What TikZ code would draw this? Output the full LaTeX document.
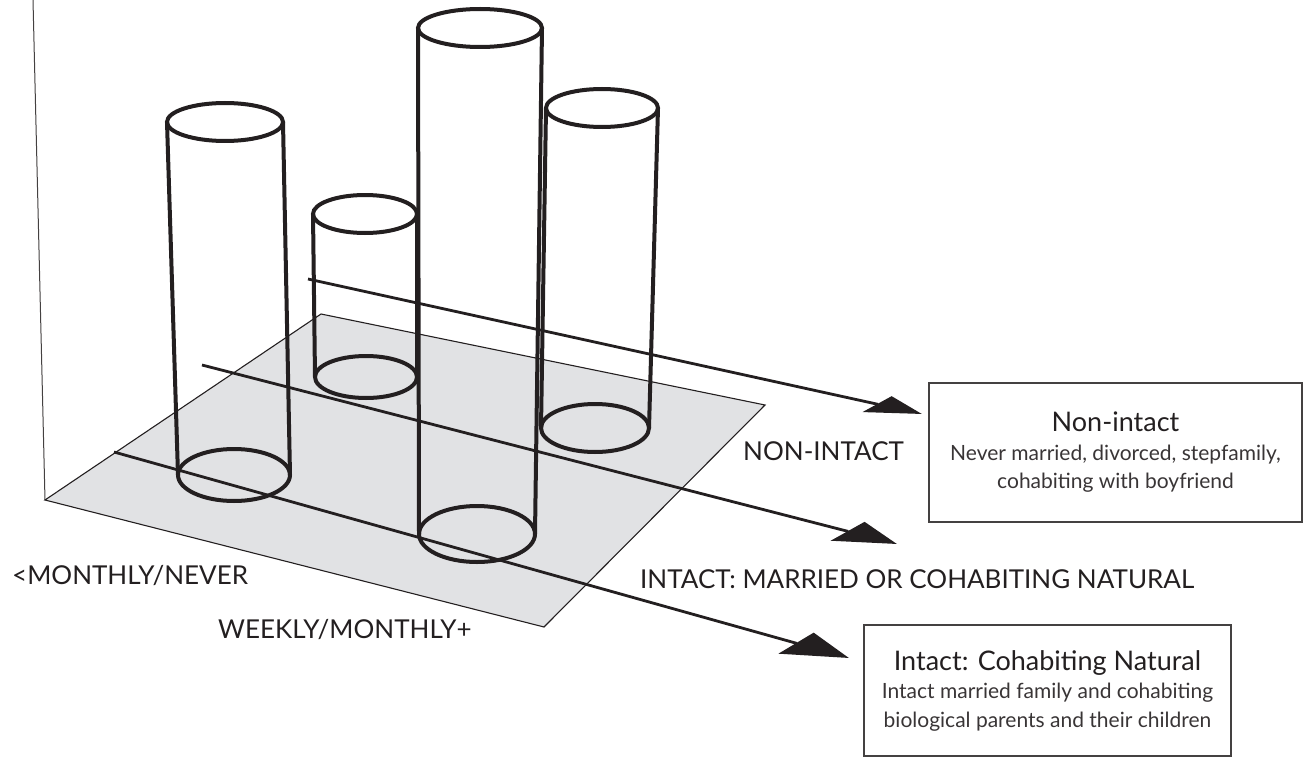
\documentclass[tikz,border=0pt]{standalone}
\usepackage{fontspec}
\setmainfont{Lato}
\usetikzlibrary{arrows.meta,positioning}
\definecolor{inkc}{HTML}{231F20}
\definecolor{floorc}{HTML}{E1E2E4}
\newcommand{\titlesize}{\fontsize{27}{29}\selectfont}

\begin{document}
\begin{tikzpicture}[
  x=1pt, y=-1pt,
  floor/.style={fill=floorc, draw=inkc, line width=1.1pt, line join=miter},
  tube/.style={draw=inkc, line width=4pt},
  arr/.style={draw=inkc, line width=2.8pt},
  axisline/.style={draw=inkc!85, line width=1pt},
  lbl/.style={font=\fontsize{26}{30}\selectfont, text=inkc, inner sep=0pt, anchor=base west},
  infobox/.style={draw=inkc!85, line width=1.3pt, align=center, text=inkc!90,
    font=\fontsize{21}{28.5}\selectfont, inner sep=0pt}
]
  \useasboundingbox (0,0) rectangle (1306,757);

  % floor and the upright axis
  \draw[axisline] (33,0) -- (45,500);
  \draw[floor] (45,500) -- (321,314) -- (765,405) -- (544,627) -- cycle;

  % category lines
  \coordinate (nonS) at (308,279);  \coordinate (nonT) at (922,414);
  \coordinate (marS) at (202,365);  \coordinate (marT) at (897,544);
  \coordinate (cohS) at (114,452);  \coordinate (cohT) at (849,658);
  \draw[arr, -{Triangle[length=46pt, width=21pt, slant=1.15]}] (nonS) -- (nonT);
  \draw[arr, -{Triangle[length=51pt, width=26pt, slant=1.05]}] (marS) -- (marT);
  \draw[arr, -{Triangle[length=55pt, width=29pt, slant=0.95]}] (cohS) -- (cohT);

  % cylinders: top centre/radii, bottom centre/radii
  \foreach \tx/\ty/\trx/\try/\bx/\by/\brx/\bry in
    {225/122/58/19/234/475/56/26, 365/214/52/19/366/377/51/21,
     480/28/62/19/477/534/58/28, 602/108/56/19/595/428/54/24}
  {
    \draw[tube] (\tx,\ty) ellipse [x radius=\trx, y radius=\try];
    \draw[tube] (\bx,\by) ellipse [x radius=\brx, y radius=\bry];
    \draw[tube] (\tx-\trx,\ty) -- (\bx-\brx,\by) (\tx+\trx,\ty) -- (\bx+\brx,\by);
  }

  % axis labels
  \node[lbl] (never)  at (12,584)  {<MONTHLY/NEVER};
  \node[lbl] (weekly) at (218,638) {WEEKLY/MONTHLY+};
  \node[lbl] (nonlbl) at (743,460) {NON-INTACT};
  \node[lbl] (marlbl) at (640,588) {INTACT: MARRIED OR COHABITING NATURAL};

  % legend boxes
  \node[infobox, minimum width=373pt, minimum height=139pt] (nonbox) at (1115.5,452.5)
    {{\titlesize\color{inkc}Non-intact}\\ Never married, divorced, stepfamily,\\ cohabiting with boyfriend};
  \node[infobox, minimum width=367pt, minimum height=131pt] (cohbox) at (1047.5,690.5)
    {{\titlesize\color{inkc}Intact: Cohabiting Natural}\\ Intact married family and cohabiting\\ biological parents and their children};
\end{tikzpicture}
\end{document}
